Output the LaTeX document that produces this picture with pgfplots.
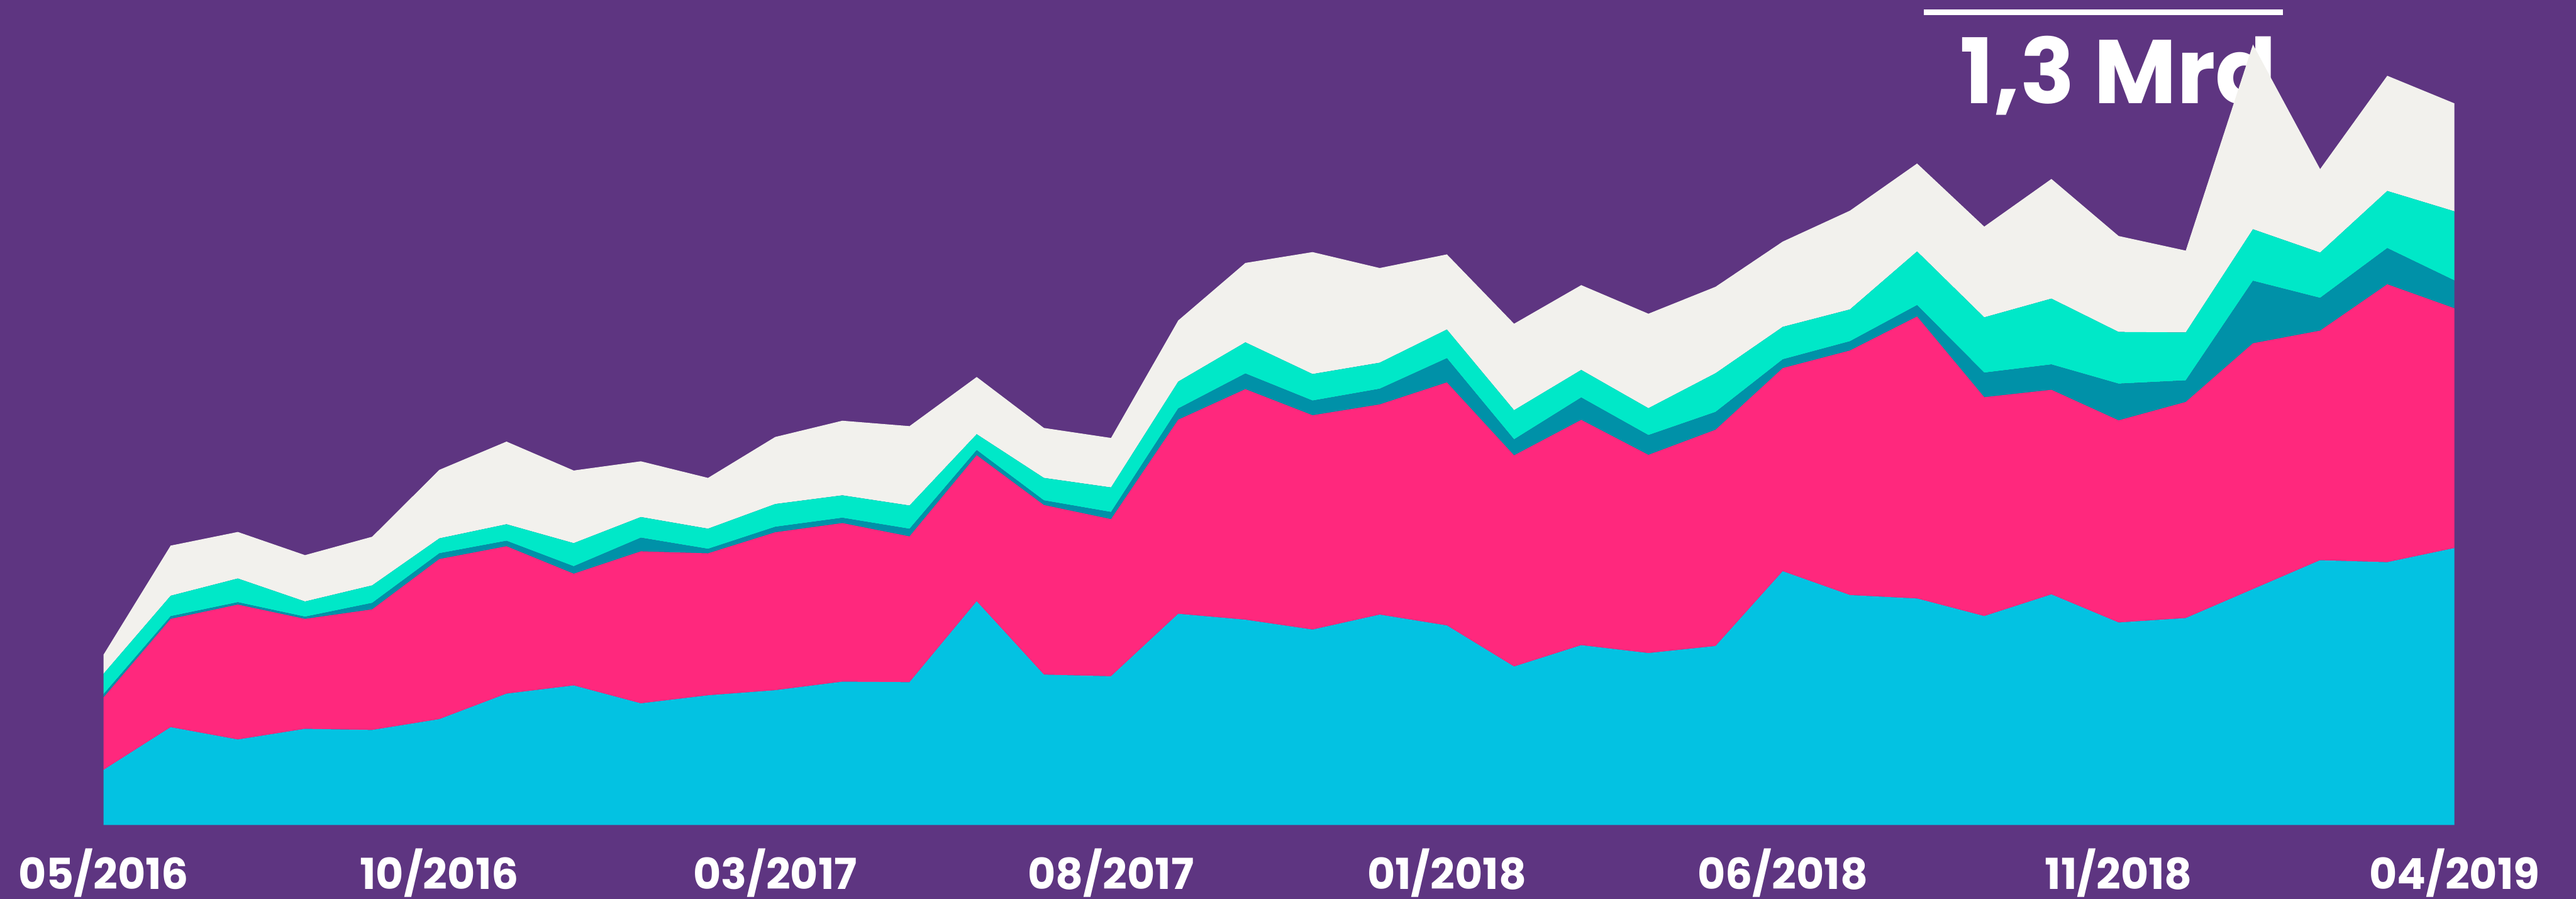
\documentclass[border=0pt]{standalone}
\usepackage{fontspec}
\setmainfont{Poppins}
\usepackage{pgfplots}
\usepackage{pgfplotstable}
\pgfplotsset{compat=1.18}
\definecolor{bg}{HTML}{5E3581}
\definecolor{cC}{HTML}{03C2E2}
\definecolor{cP}{HTML}{FF287D}
\definecolor{cT}{HTML}{0091A8}
\definecolor{cA}{HTML}{00E8C8}
\definecolor{cW}{HTML}{F2F1ED}
\pgfplotstableread{
x C P T A W
0 33.5 44.1 1.9 12.5 11.6
1 59.5 65.9 1.6 12.5 30.5
2 52.0 82.1 1.4 14.5 28.3
3 58.5 66.9 1.3 9.3 28.2
4 57.8 73.4 3.9 10.7 29.6
5 64.4 97.4 3.5 9.1 41.7
6 79.9 89.7 3.3 10.1 50.3
7 84.9 68.0 4.5 14.1 44.2
8 74.0 92.5 8.3 12.6 33.9
9 78.9 86.4 2.7 12.3 30.9
10 82.0 96.1 3.3 13.9 40.8
11 87.2 96.5 3.2 13.7 45.4
12 86.9 88.7 4.6 14.2 48.3
13 136.1 88.9 3.1 9.7 34.8
14 91.5 103.2 2.8 13.7 30.4
15 90.5 95.6 4.3 15.0 30.1
16 128.5 118.1 6.8 16.4 37.2
17 124.9 140.3 9.5 19.0 48.3
18 118.9 130.4 8.9 16.2 74.2
19 128.0 127.9 9.5 15.9 57.6
20 121.4 147.9 14.7 17.5 45.7
21 96.4 128.5 9.7 17.8 52.6
22 109.4 137.1 13.6 16.8 51.6
23 104.6 120.6 12.0 16.4 57.5
24 108.9 131.6 10.8 23.6 52.6
25 154.4 123.6 5.3 19.8 51.9
26 139.9 148.8 5.6 19.4 60.1
27 137.8 171.6 6.9 32.7 53.5
28 127.1 133.2 14.9 33.7 55.2
29 140.3 124.5 15.4 40.1 72.8
30 123.2 123.0 22.3 31.5 58.4
31 125.9 131.5 13.1 29.2 49.8
32 143.5 149.6 38.0 31.4 112.4
33 161.1 139.7 19.9 27.6 50.8
34 159.9 169.1 22.0 34.8 70.1
35 168.5 145.9 16.9 42.1 65.7
}\datatable
\begin{document}
\begin{tikzpicture}
\fill[bg] (-31.5pt,-22.5pt) rectangle (752.5pt,251pt);
\useasboundingbox (-31.5pt,-22.5pt) rectangle (752.5pt,251pt);
\begin{axis}[
  at={(0,0)}, anchor=south west,
  scale only axis, width=715.5pt, height=251pt,
  xmin=0, xmax=35, ymin=0, ymax=502,
  stack plots=y,
  axis line style={draw=none},
  major tick length=0pt,
  ytick=\empty,
  xtick={0,5,10,15,20,25,30,35},
  xticklabels={05/2016,10/2016,03/2017,08/2017,01/2018,06/2018,11/2018,04/2019},
  xticklabel style={font=\fontsize{13}{13}\selectfont\bfseries, text=white, anchor=base, yshift=-19.6pt, inner sep=0pt},
  clip=false,
]
\addplot[fill=cC, draw=none] table[x=x, y=C] {\datatable} \closedcycle;
\addplot[fill=cP, draw=none] table[x=x, y=P] {\datatable} \closedcycle;
\addplot[fill=cT, draw=none] table[x=x, y=T] {\datatable} \closedcycle;
\addplot[fill=cA, draw=none] table[x=x, y=A] {\datatable} \closedcycle;
\addplot[fill=cW, draw=none] table[x=x, y=W] {\datatable} \closedcycle;
\draw[white, line width=1.75pt] (axis cs:27.1,494.6) -- (axis cs:32.45,494.6);
\node[white, anchor=base, inner sep=0pt, font=\fontsize{27.5}{27.5}\selectfont\bfseries] at (axis cs:30.0,439) {1,3 Mrd};
\end{axis}
\end{tikzpicture}
\end{document}
